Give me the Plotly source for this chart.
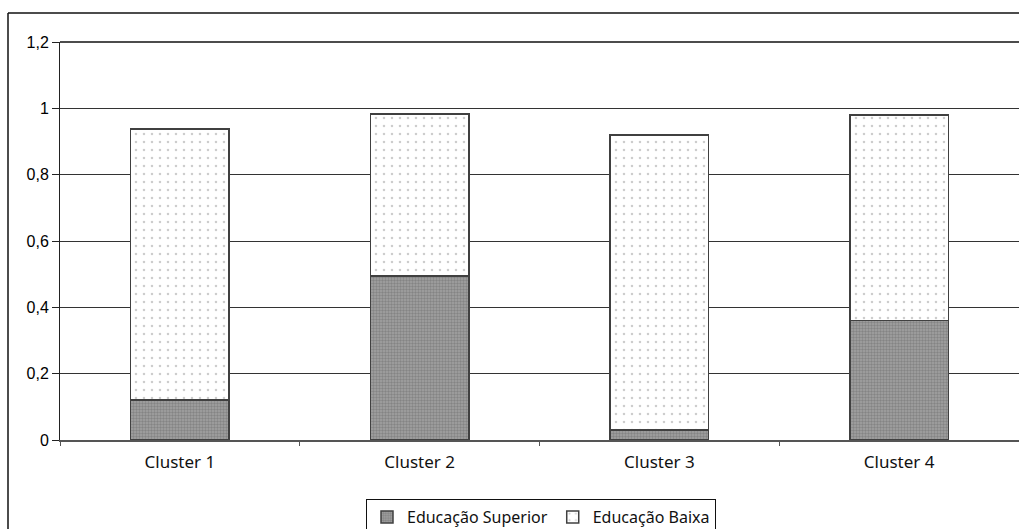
import plotly.graph_objects as go

categories = ["Cluster 1", "Cluster 2", "Cluster 3", "Cluster 4"]
edu_superior = [0.12, 0.495, 0.03, 0.36]
edu_baixa = [0.818, 0.488, 0.89, 0.62]
y_ticks = [0, 0.2, 0.4, 0.6, 0.8, 1.0, 1.2]
y_tick_labels = ["0", "0,2", "0,4", "0,6", "0,8", "1", "1,2"]

# plot area in pixels: x 60..1019, y 42..440
L, R, T, B = 60, 0, 42, 89
W, H = 1019, 529
pw, ph = W - L - R, H - T - B


def px_x(x):
    return (x - L) / pw


def px_y(y):
    return (H - B - y) / ph


fig = go.Figure()
fig.add_trace(go.Bar(
    x=categories, y=edu_superior, name="Educação Superior",
    marker=dict(color="#888888", line=dict(color="#404040", width=1.5),
                pattern=dict(shape=".", fgcolor="#666666", bgcolor="#a2a2a2",
                             size=3, solidity=0.5)),
))
fig.add_trace(go.Bar(
    x=categories, y=edu_baixa, name="Educação Baixa",
    marker=dict(color="white", line=dict(color="#404040", width=1.5),
                pattern=dict(shape=".", fgcolor="#9a9a9a", bgcolor="white",
                             size=8, solidity=0.08)),
))

fig.update_layout(
    width=W, height=H,
    barmode="stack", bargap=0.59,
    plot_bgcolor="white", paper_bgcolor="white",
    margin=dict(l=L, r=R, t=T, b=B, pad=0, autoexpand=False),
    font=dict(family="Noto Sans", size=16, color="#111"),
    showlegend=True,
    legend=dict(orientation="h", x=541 / W, xanchor="center",
                xref="container", yref="container",
                y=1 - 499 / H, yanchor="top",
                bordercolor="#111", borderwidth=1,
                font=dict(family="Noto Sans", size=16, color="#111"),
                itemwidth=30, traceorder="normal"),
    xaxis=dict(showgrid=False, showline=True, linecolor="#555", linewidth=1.5,
               ticks="outside", tickson="boundaries", ticklen=4, tickcolor="#555",
               automargin=False, ticklabelstandoff=6,
               tickfont=dict(family="Noto Sans", size=17, color="#111")),
    yaxis=dict(range=[0, 1.2], tickvals=y_ticks, ticktext=y_tick_labels,
               showgrid=True, gridcolor="#333", gridwidth=1,
               showline=True, linecolor="#222", linewidth=1,
               ticks="outside", ticklen=7, tickcolor="#222", automargin=False,
               tickfont=dict(family="Liberation Sans", size=16, color="#000"),
               zeroline=False),
    shapes=[
        dict(type="line", xref="paper", yref="paper",
             x0=px_x(8), x1=px_x(8), y0=px_y(535), y1=px_y(13),
             line=dict(color="#111", width=1.5)),
        dict(type="line", xref="paper", yref="paper",
             x0=px_x(8), x1=px_x(1025), y0=px_y(13), y1=px_y(13),
             line=dict(color="#111", width=1.5)),
        dict(type="line", xref="paper", yref="paper",
             x0=0, x1=1, y0=1, y1=1,
             line=dict(color="#111", width=1.5)),
    ],
)

fig.write_html("out.html")
